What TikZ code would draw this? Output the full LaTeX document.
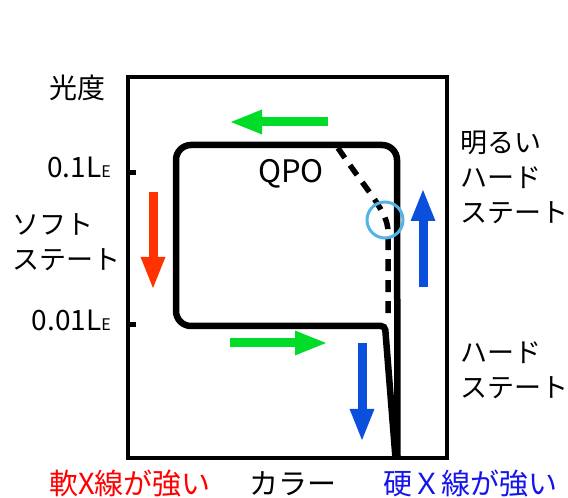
\documentclass[tikz,border=0pt]{standalone}
\usepackage{fontspec}
\setmainfont{Noto Sans CJK JP}
\usetikzlibrary{arrows.meta}
\definecolor{garrow}{RGB}{0,220,40}
\definecolor{rarrow}{RGB}{255,50,0}
\definecolor{barrow}{RGB}{10,80,220}
\definecolor{qcirc}{RGB}{85,180,230}
\definecolor{softred}{RGB}{255,0,0}
\definecolor{hardblue}{RGB}{20,20,235}
\tikzset{
  frame/.style={line width=4pt},
  tickmark/.style={line width=5pt},
  track/.style={line width=6.5pt},
  qpodash/.style={line width=5.5pt, dash pattern=on 12pt off 9pt},
  fatarrow/.style={line width=9pt, -{Triangle[length=33pt,width=22pt]}},
  lbl/.style={inner sep=0pt, font=\fontsize{27}{35}\selectfont, align=left},
  axlbl/.style={inner sep=0pt, font=\fontsize{28}{30}\selectfont},
  botlbl/.style={inner sep=0pt, font=\fontsize{29}{35}\selectfont, anchor=base}
}
\begin{document}
\begin{tikzpicture}[x=1pt,y=1pt]
\useasboundingbox (0,0) rectangle (568,498);
% frame
\draw[frame] (128,421) rectangle (447,40);
\coordinate (t1a) at (128,325); \coordinate (t1b) at (136,325);
\coordinate (t2a) at (128,173); \coordinate (t2b) at (136,173);
\draw[tickmark] (t1a) -- (t1b);
\draw[tickmark] (t2a) -- (t2b);
% track
\coordinate (bA) at (395.5,40);
\coordinate (bB) at (385,172);
\coordinate (bC) at (176,172);
\coordinate (bD) at (176,353);
\coordinate (bE) at (397,353);
\coordinate (bF) at (397.5,40);
\draw[track, rounded corners=4pt] (bA) -- (bB) [rounded corners=15pt] -- (bC) -- (bD) -- (bE) -- (bF);
% QPO dashed
\coordinate (q0) at (338,350);
\coordinate (q1) at (388,266);
\coordinate (q2) at (388,178);
\draw[qpodash] (q0) .. controls (370,303) and (388,286) .. (q1) -- (q2);
\node[draw=qcirc, line width=3pt, circle, minimum size=36pt, inner sep=0pt] (qc) at (385,278) {};
% arrows
\coordinate (g1s) at (328,376); \coordinate (g1e) at (229,376);
\coordinate (g2s) at (230,155); \coordinate (g2e) at (328,155);
\coordinate (rs) at (153,306); \coordinate (re) at (153,208);
\coordinate (bus) at (423,211); \coordinate (bue) at (423,310);
\coordinate (bds) at (362,155); \coordinate (bde) at (362,56);
\draw[fatarrow, garrow] (g1s) -- (g1e);
\draw[fatarrow, garrow] (g2s) -- (g2e);
\draw[fatarrow, rarrow] (rs) -- (re);
\draw[fatarrow, barrow] (bus) -- (bue);
\draw[fatarrow, barrow] (bds) -- (bde);
% labels
\node[inner sep=0pt, font=\fontsize{28}{30}\selectfont] (lum) at (77,410) {光度};
\node[axlbl, anchor=base east] (l01) at (111,320) {0.1L{\fontsize{16}{16}\selectfont E}};
\node[axlbl, anchor=base east] (l001) at (111,167) {0.01L{\fontsize{16}{16}\selectfont E}};
\node[lbl, anchor=west] (soft) at (12,256) {ソフト\\ステート};
\node[lbl, anchor=west] (bright) at (460,321) {明るい\\ハード\\ステート};
\node[lbl, anchor=west] (hard) at (460,128) {ハード\\ステート};
\node[inner sep=0pt, font=\fontsize{31}{35}\selectfont] (qpo) at (291,324) {QPO};
\node[botlbl, text=softred] (sx) at (130,3) {軟X線が強い};
\node[botlbl] (col) at (293,3) {カラー};
\node[botlbl, text=hardblue] (hx) at (470,3) {硬Ｘ線が強い};
\end{tikzpicture}
\end{document}
